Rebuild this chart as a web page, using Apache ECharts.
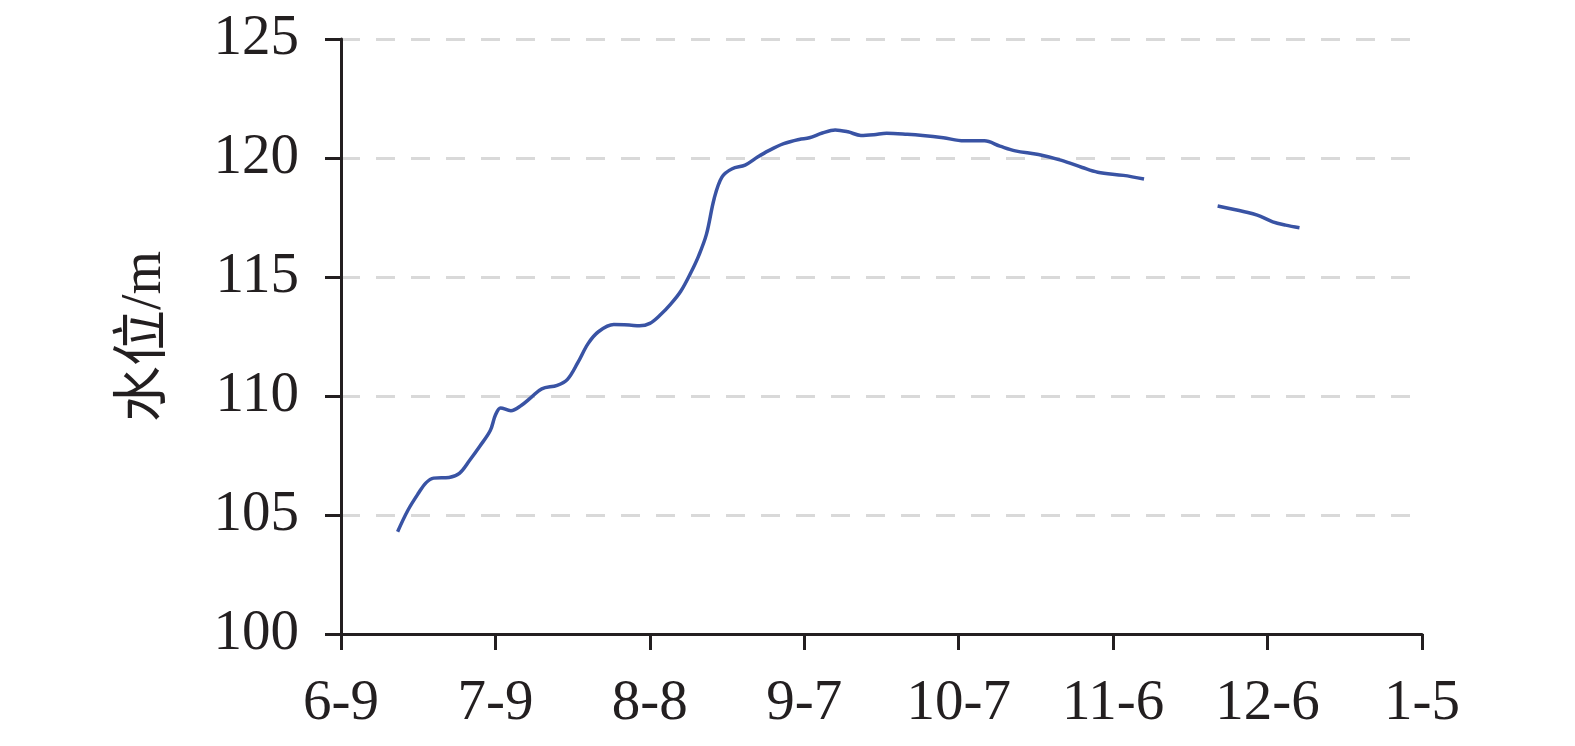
<!DOCTYPE html>
<html>
<head>
<meta charset="utf-8">
<script src="https://cdn.jsdelivr.net/npm/echarts@6/dist/echarts.min.js"></script>
<style>html,body{margin:0;padding:0;background:#fff}#c{width:1575px;height:746px}</style>
</head>
<body>
<div id="c"></div>
<script>
// x = days since 6-9
const tickLabels = ['6-9','7-9','8-8','9-7','10-7','11-6','12-6','1-5'];
const days = [11,13,15,16.5,18,21,23,25,27,29,30,31,33,35,37,39,42,44,46,48,50,53,56,58,60,62,64,66,68,69.5,71,72.5,74,76,78.5,81,83,86,89,91,93.5,96,98.5,101,103.5,106,110,113,117,121,125,128,131,135.5,140,144,147,152,156,163,170.3,175.5,178,181,183.5,186.2];
const levels = [104.3,105.2,105.9,106.35,106.55,106.58,106.75,107.3,107.9,108.55,109.2,109.5,109.38,109.6,109.95,110.3,110.45,110.7,111.4,112.2,112.7,113.0,112.98,112.95,113.05,113.4,113.85,114.4,115.2,115.9,116.8,118.3,119.2,119.55,119.7,120.05,120.3,120.6,120.78,120.85,121.05,121.18,121.1,120.95,120.98,121.04,121.0,120.95,120.85,120.72,120.72,120.5,120.3,120.15,119.9,119.6,119.4,119.27,119.12,null,117.98,117.74,117.6,117.32,117.18,117.07];

const data = days.map((d,i)=>[d, levels[i] === null ? '-' : levels[i]]);
const axisColor = '#231f20';
const font = '"Liberation Serif", "Noto Sans CJK SC", serif';
const chart = echarts.init(document.getElementById('c'));
chart.setOption({
  animation:false,
  grid:{left:341, right:153, top:39, bottom:112, containLabel:false},
  xAxis:{
    type:'value', min:0, max:210, interval:30,
    axisLine:{lineStyle:{color:axisColor,width:3}},
    axisTick:{show:true,length:16,lineStyle:{color:axisColor,width:3}},
    splitLine:{show:false},
    axisLabel:{margin:42,color:'#231f20',fontSize:57,fontFamily:font,
      formatter:(v)=>tickLabels[Math.round(v/30)]}
  },
  yAxis:{
    type:'value', min:100, max:125, interval:5,
    name:'水位/m', nameLocation:'middle', nameGap:168,
    nameTextStyle:{fontSize:56,fontFamily:font,color:'#231f20'},
    axisLine:{show:true,lineStyle:{color:axisColor,width:3}},
    axisTick:{show:true,length:16,lineStyle:{color:axisColor,width:3}},
    splitLine:{show:true,lineStyle:{color:'#d9d9d9',width:3,type:[19,16]}},
    axisLabel:{margin:42,color:'#231f20',fontSize:57,fontFamily:font}
  },
  series:[{
    type:'line', data:data, smooth:0.35, showSymbol:false, connectNulls:false,
    lineStyle:{color:'#3953a4',width:3.5}
  }]
});
</script>
</body>
</html>
